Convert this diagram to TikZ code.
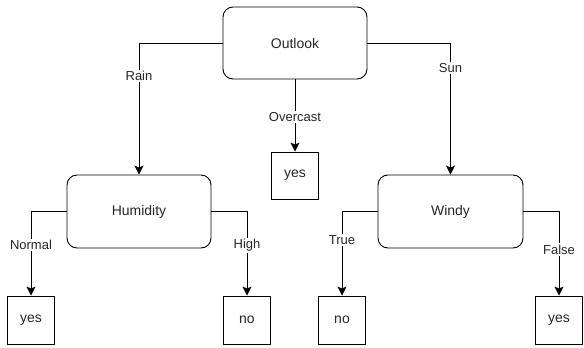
\documentclass[tikz,border=0pt]{standalone}
\usepackage{fontspec}
\setmainfont{Liberation Sans}
\usetikzlibrary{arrows.meta}
\begin{document}
\begin{tikzpicture}[x=1pt,y=-1pt,
  inner/.style={draw, line width=0.9pt, rounded corners=10pt, minimum width=144pt, minimum height=72pt, font=\fontsize{14}{16}\selectfont, text=black!85},
  leaf/.style={draw, line width=0.9pt, minimum width=47pt, minimum height=47pt, font=\fontsize{14}{16}\selectfont, text=black!85},
  lbl/.style={fill=white, inner sep=1.5pt, font=\fontsize{13}{15}\selectfont, text=black!85},
  arr/.style={draw, line width=0.9pt, -{Stealth[length=9pt,width=9pt,inset=2pt]}}]
\useasboundingbox (0,0) rectangle (584,348);
\node[inner] (out) at (295,43) {Outlook};
\node[inner, minimum height=73pt] (hum) at (139,211.5) {Humidity};
\node[inner, minimum width=145pt, minimum height=73pt] (win) at (450.5,211.5) {Windy};
\node[leaf] (ov) at (295,175.5) {yes};
\node[leaf, minimum height=48pt] (l1) at (31,320) {yes};
\node[leaf, minimum height=48pt] (l2) at (247,320) {no};
\node[leaf, minimum height=48pt] (l3) at (342,320) {no};
\node[leaf, minimum height=48pt] (l4) at (559,320) {yes};
\draw[arr] (out.west) -| node[lbl, pos=0.625] (rain) {Rain} (hum.north);
\draw[arr] (out.east) -| node[lbl, pos=0.595] (sun) {Sun} (win.north);
\draw[arr] (out.south) -- node[lbl, pos=0.52] (oc) {Overcast} (ov.north);
\draw[arr] (hum.west) -| node[lbl, pos=0.70] (nor) {Normal} (l1.north);
\draw[arr] (hum.east) -| node[lbl, pos=0.70] (hi) {High} (l2.north);
\draw[arr] (win.west) -| node[lbl, pos=0.67] (tr) {True} (l3.north);
\draw[arr] (win.east) -| node[lbl, pos=0.726] (fa) {False} (l4.north);
\end{tikzpicture}
\end{document}
